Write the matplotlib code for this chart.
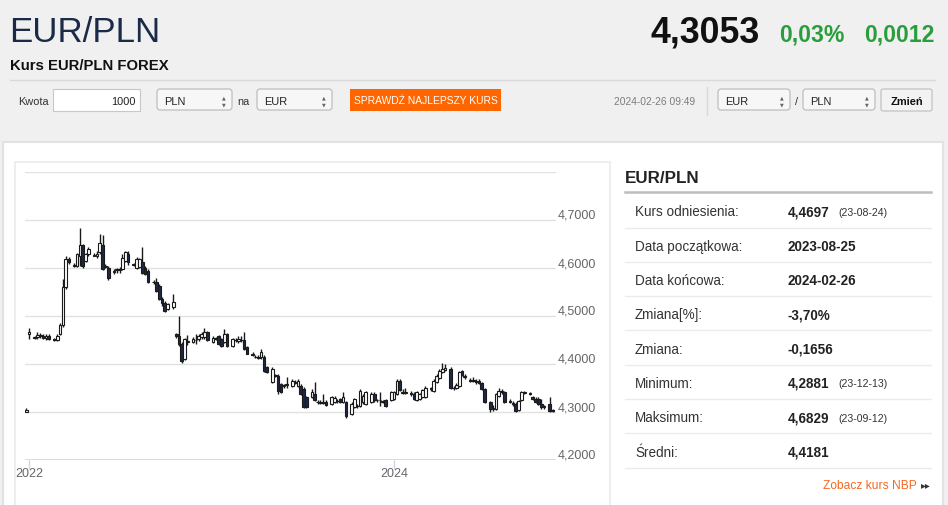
import matplotlib
matplotlib.use("Agg")
import matplotlib.pyplot as plt
import matplotlib.dates as mdates
from matplotlib import font_manager
from matplotlib.patches import Rectangle, FancyBboxPatch
from matplotlib.transforms import offset_copy
import pandas as pd

W, H = 948, 506

# forex candles: every day except Saturday
all_days = pd.date_range("2023-08-24", "2024-02-26", freq="D")
days = all_days[all_days.dayofweek != 5]

opens = [
    4.301, 4.462, 4.455, 4.456, 4.460, 4.458, 4.455, 4.459, 4.452, 4.450,
    4.462, 4.481, 4.560, 4.619, 4.606, 4.605, 4.626, 4.647, 4.615, 4.629,
    4.628, 4.626, 4.633, 4.647, 4.603, 4.601, 4.592, 4.596, 4.598, 4.598,
    4.615, 4.629, 4.607, 4.601, 4.603, 4.612, 4.601, 4.594, 4.571, 4.570,
    4.563, 4.535, 4.528, 4.515, 4.518, 4.462, 4.459, 4.442, 4.410, 4.447,
    4.446, 4.449, 4.452, 4.456, 4.456, 4.466, 4.445, 4.452, 4.458, 4.452,
    4.445, 4.462, 4.438, 4.450, 4.448, 4.449, 4.449, 4.435, 4.421, 4.415,
    4.414, 4.414, 4.414, 4.393, 4.362, 4.376, 4.376, 4.358, 4.355, 4.356,
    4.355, 4.362, 4.355, 4.355, 4.348, 4.331, 4.331, 4.338, 4.321, 4.319,
    4.320, 4.321, 4.317, 4.320, 4.322, 4.327, 4.320, 4.320, 4.296, 4.310,
    4.312, 4.313, 4.320, 4.317, 4.320, 4.338, 4.324, 4.325, 4.322, 4.324,
    4.324, 4.327, 4.338, 4.365, 4.342, 4.341, 4.339, 4.338, 4.324, 4.327,
    4.331, 4.331, 4.348, 4.344, 4.362, 4.370, 4.384, 4.388, 4.390, 4.350,
    4.349, 4.355, 4.386, 4.376, 4.367, 4.366, 4.365, 4.365, 4.360, 4.348,
    4.320, 4.306, 4.306, 4.334, 4.342, 4.341, 4.323, 4.318, 4.317, 4.304,
    4.324, 4.340, 4.339, 4.331, 4.328, 4.328, 4.317, 4.310, 4.317, 4.303,
]
highs = [
    4.308, 4.474, 4.458, 4.466, 4.465, 4.463, 4.462, 4.463, 4.455, 4.462,
    4.485, 4.577, 4.624, 4.622, 4.610, 4.632, 4.683, 4.650, 4.632, 4.643,
    4.631, 4.635, 4.671, 4.668, 4.609, 4.605, 4.597, 4.600, 4.603, 4.630,
    4.636, 4.635, 4.610, 4.622, 4.620, 4.643, 4.605, 4.598, 4.574, 4.580,
    4.566, 4.540, 4.531, 4.528, 4.546, 4.465, 4.501, 4.446, 4.455, 4.460,
    4.457, 4.462, 4.462, 4.466, 4.475, 4.469, 4.458, 4.456, 4.461, 4.455,
    4.472, 4.465, 4.454, 4.454, 4.458, 4.458, 4.466, 4.438, 4.424, 4.418,
    4.418, 4.431, 4.418, 4.396, 4.393, 4.380, 4.380, 4.361, 4.359, 4.372,
    4.368, 4.366, 4.368, 4.358, 4.352, 4.334, 4.348, 4.362, 4.324, 4.324,
    4.338, 4.325, 4.333, 4.334, 4.327, 4.330, 4.341, 4.323, 4.320, 4.330,
    4.316, 4.348, 4.338, 4.344, 4.341, 4.341, 4.328, 4.341, 4.326, 4.327,
    4.344, 4.344, 4.368, 4.368, 4.348, 4.351, 4.343, 4.341, 4.344, 4.340,
    4.348, 4.355, 4.352, 4.368, 4.380, 4.390, 4.403, 4.400, 4.394, 4.354,
    4.360, 4.386, 4.388, 4.379, 4.370, 4.372, 4.368, 4.369, 4.362, 4.351,
    4.323, 4.314, 4.340, 4.350, 4.348, 4.344, 4.327, 4.322, 4.320, 4.325,
    4.343, 4.344, 4.342, 4.334, 4.332, 4.331, 4.327, 4.315, 4.331, 4.306,
]
lows = [
    4.299, 4.453, 4.452, 4.452, 4.454, 4.452, 4.451, 4.449, 4.448, 4.447,
    4.460, 4.478, 4.556, 4.608, 4.602, 4.603, 4.605, 4.600, 4.612, 4.626,
    4.624, 4.620, 4.630, 4.596, 4.600, 4.576, 4.588, 4.590, 4.590, 4.596,
    4.612, 4.606, 4.604, 4.598, 4.600, 4.588, 4.585, 4.568, 4.567, 4.551,
    4.533, 4.520, 4.509, 4.512, 4.515, 4.455, 4.438, 4.403, 4.408, 4.440,
    4.443, 4.441, 4.448, 4.452, 4.453, 4.447, 4.443, 4.449, 4.440, 4.436,
    4.443, 4.436, 4.436, 4.446, 4.444, 4.446, 4.430, 4.420, 4.417, 4.412,
    4.410, 4.411, 4.384, 4.381, 4.360, 4.372, 4.338, 4.339, 4.350, 4.350,
    4.352, 4.358, 4.353, 4.336, 4.308, 4.308, 4.329, 4.322, 4.317, 4.316,
    4.317, 4.313, 4.315, 4.318, 4.319, 4.318, 4.318, 4.288, 4.294, 4.308,
    4.309, 4.311, 4.317, 4.315, 4.318, 4.320, 4.320, 4.313, 4.318, 4.310,
    4.322, 4.324, 4.336, 4.343, 4.337, 4.338, 4.334, 4.325, 4.322, 4.325,
    4.329, 4.329, 4.344, 4.342, 4.360, 4.368, 4.382, 4.385, 4.348, 4.346,
    4.347, 4.353, 4.374, 4.369, 4.362, 4.362, 4.359, 4.358, 4.346, 4.318,
    4.300, 4.302, 4.304, 4.332, 4.338, 4.318, 4.318, 4.312, 4.300, 4.302,
    4.322, 4.337, 4.335, 4.326, 4.318, 4.315, 4.307, 4.306, 4.301, 4.300,
]
closes = [
    4.304, 4.466, 4.456, 4.460, 4.458, 4.455, 4.459, 4.452, 4.450, 4.458,
    4.481, 4.560, 4.619, 4.612, 4.604, 4.629, 4.647, 4.605, 4.629, 4.640,
    4.626, 4.629, 4.653, 4.598, 4.605, 4.580, 4.594, 4.597, 4.595, 4.620,
    4.633, 4.612, 4.606, 4.619, 4.618, 4.590, 4.587, 4.570, 4.570, 4.553,
    4.535, 4.528, 4.511, 4.525, 4.530, 4.459, 4.442, 4.407, 4.452, 4.445,
    4.452, 4.450, 4.459, 4.462, 4.466, 4.449, 4.455, 4.453, 4.442, 4.438,
    4.462, 4.438, 4.452, 4.449, 4.452, 4.450, 4.431, 4.421, 4.419, 4.414,
    4.413, 4.424, 4.386, 4.383, 4.390, 4.375, 4.344, 4.341, 4.356, 4.358,
    4.365, 4.360, 4.365, 4.338, 4.310, 4.310, 4.341, 4.324, 4.320, 4.321,
    4.319, 4.315, 4.331, 4.330, 4.323, 4.320, 4.331, 4.291, 4.317, 4.327,
    4.313, 4.344, 4.334, 4.341, 4.338, 4.324, 4.326, 4.324, 4.321, 4.313,
    4.341, 4.341, 4.365, 4.345, 4.340, 4.340, 4.338, 4.327, 4.341, 4.338,
    4.345, 4.351, 4.349, 4.365, 4.376, 4.386, 4.390, 4.391, 4.350, 4.349,
    4.356, 4.383, 4.377, 4.372, 4.365, 4.365, 4.362, 4.360, 4.348, 4.320,
    4.306, 4.308, 4.338, 4.344, 4.344, 4.320, 4.321, 4.316, 4.303, 4.322,
    4.341, 4.341, 4.338, 4.328, 4.320, 4.317, 4.310, 4.310, 4.303, 4.302,
]

y_levels = [4.2, 4.3, 4.4, 4.5, 4.6, 4.7]
y_labels = ["4,2000", "4,3000", "4,4000", "4,5000", "4,6000", "4,7000"]
grid_levels = [4.3, 4.4, 4.5, 4.6, 4.7, 4.8]
x_tick_dates = ["2023-08-25", "2024-01-01"]
x_tick_labels = ["2022", "2024"]

stat_names = ["Kurs odniesienia:", "Data początkowa:", "Data końcowa:", "Zmiana[%]:",
              "Zmiana:", "Minimum:", "Maksimum:", "Średni:"]
stat_values = ["4,4697", "2023-08-25", "2024-02-26", "-3,70%",
               "-0,1656", "4,2881", "4,6829", "4,4181"]
stat_dates = ["(23-08-24)", "", "", "", "", "(23-12-13)", "(23-09-12)", ""]

names = {f.name for f in font_manager.fontManager.ttflist}
NARROW = "Liberation Sans Narrow" if "Liberation Sans Narrow" in names else "Liberation Sans"
SQ = 1.0 if NARROW == "Liberation Sans Narrow" else 0.85
SANS = "Liberation Sans"


def pt(px):
    return px * 0.72


fig = plt.figure(figsize=(W / 100, H / 100), dpi=100)
fig.patch.set_facecolor("#f0f0f0")
page = fig.add_axes([0, 0, 1, 1], zorder=0)
page.set_xlim(0, W)
page.set_ylim(H, 0)
page.axis("off")

# header
page.text(9, 42, "EUR/PLN", fontsize=pt(41 * SQ), color="#1b2a47", family=NARROW, va="baseline")
page.text(760, 42, "4,3053", fontsize=pt(42 * SQ), color="#111111", family=NARROW,
          weight="bold", ha="right", va="baseline")
page.text(845, 41, "0,03%", fontsize=pt(27 * SQ), color="#2a9d3c", family=NARROW,
          weight="bold", ha="right", va="baseline")
page.text(935, 41, "0,0012", fontsize=pt(27 * SQ), color="#2a9d3c", family=NARROW,
          weight="bold", ha="right", va="baseline")
page.text(10, 70, "Kurs EUR/PLN FOREX", fontsize=pt(17.5 * SQ), color="#111111", family=NARROW,
          weight="bold", va="baseline")
page.plot([10, 935], [80.5, 80.5], color="#d9d9d9", lw=1)


def select_box(x0, x1, label):
    page.add_patch(FancyBboxPatch((x0, 90), x1 - x0, 21, boxstyle="round,pad=0,rounding_size=3",
                                  fc="#f7f7f7", ec="#b8b8b8", lw=0.8))
    page.text(x0 + 7, 105, label, fontsize=pt(13 * SQ), family=NARROW, color="#222222", va="baseline")
    page.text(x1 - 8, 97.5, "▲", fontsize=3.5, family="DejaVu Sans", color="#666666", ha="center", va="center")
    page.text(x1 - 8, 104.5, "▼", fontsize=3.5, family="DejaVu Sans", color="#666666", ha="center", va="center")


page.text(18, 105, "Kwota", fontsize=pt(13 * SQ), family=NARROW, color="#333333", va="baseline")
page.add_patch(Rectangle((53, 90), 87, 22, fc="white", ec="#c8c8c8", lw=0.8))
page.text(136, 105, "1000", fontsize=pt(13 * SQ), family=NARROW, color="#222222", ha="right", va="baseline")
select_box(157, 232, "PLN")
page.text(237, 105, "na", fontsize=pt(13 * SQ), family=NARROW, color="#333333", va="baseline")
select_box(257, 332, "EUR")
page.add_patch(Rectangle((350, 90), 151, 22, fc="#ff6600", ec="none"))
page.text(425.5, 101, "SPRAWDŹ NAJLEPSZY KURS", fontsize=pt(12 * SQ), family=NARROW, color="white",
          ha="center", va="center")
page.text(695, 105, "2024-02-26 09:49", fontsize=pt(12 * SQ), family=NARROW, color="#7d7d7d",
          ha="right", va="baseline")
page.plot([707, 707], [88, 116], color="#d8d8d8", lw=1)
select_box(718, 790, "EUR")
page.text(796.5, 105, "/", fontsize=pt(13 * SQ), family=NARROW, color="#333333", ha="center", va="baseline")
select_box(803, 875, "PLN")
page.add_patch(FancyBboxPatch((881, 90), 51, 22, boxstyle="round,pad=0,rounding_size=2",
                              fc="#f3f3f3", ec="#bdbdbd", lw=0.8))
page.text(906.5, 101.5, "Zmień", fontsize=pt(13 * SQ), family=NARROW, weight="bold", color="#111111",
          ha="center", va="center")

# panels
page.add_patch(Rectangle((3, 143), 940, 380, fc="white", ec="#e2e2e2", lw=1.5))
chart_box = Rectangle((15, 163), 595, 360, fc="white", ec="#ebebeb", lw=1.2)
page.add_patch(chart_box)

# statistics table
page.text(625, 183, "EUR/PLN", fontsize=pt(17), family=SANS, weight="bold", color="#222222", va="baseline")
page.plot([625, 931], [193, 193], color="#bdbdbd", lw=1.8)
for i, (n, v, d) in enumerate(zip(stat_names, stat_values, stat_dates)):
    yc = 211.7 + 34.3 * i
    page.text(635, yc + 4.8, n, fontsize=pt(13.5), family=SANS, color="#333333", va="baseline")
    page.text(788, yc + 4.8, v, fontsize=pt(13.5), family=SANS, weight="bold", color="#222222", va="baseline")
    if d:
        page.text(838, yc + 4.3, d, fontsize=pt(10.5), family=SANS, color="#333333", va="baseline")
    page.plot([625, 931], [yc + 16.8, yc + 16.8], color="#ebebeb", lw=1)
page.text(917, 489, "Zobacz kurs NBP", fontsize=pt(12), family=SANS, color="#f26a21",
          ha="right", va="baseline")
page.text(921, 485.5, "▸▸", fontsize=7, family="DejaVu Sans", color="#333333", va="center")

# candlestick chart
ax = fig.add_axes([25 / W, 1 - 461 / H, (556 - 25) / W, (461 - 173) / H], zorder=2)
ax.patch.set_alpha(0)
for s in ax.spines.values():
    s.set_visible(False)
ax.set_ylim(4.2, 4.8)
x0 = mdates.date2num(pd.Timestamp("2023-08-25"))
ax.set_xlim(x0 - 4 / 2.83, x0 + 527 / 2.83)

xs = mdates.date2num(days)
for lv in grid_levels:
    ax.axhline(lv, color="#e1e1e1", lw=1, zorder=1)
ax.axhline(4.2, color="#ccd6eb", lw=1.2, zorder=1)

ax.vlines(xs, lows, highs, color="#1a1a1a", lw=1.0, zorder=3)
bottoms = [min(o, c) for o, c in zip(opens, closes)]
heights = [max(abs(c - o), 0.0015) for o, c in zip(opens, closes)]
faces = ["white" if c >= o else "#1d2944" for o, c in zip(opens, closes)]
ax.bar(xs, heights, bottom=bottoms, width=0.95, color=faces, edgecolor="#1a1a1a",
       linewidth=0.8, zorder=4)

ax.set_yticks([])
tick_nums = [mdates.date2num(pd.Timestamp(d)) for d in x_tick_dates]
ax.set_xticks(tick_nums)
ax.tick_params(axis="x", length=pt(9), width=1, color="#ccd6eb", labelbottom=False, direction="out")

ytrans = offset_copy(ax.get_yaxis_transform(), fig=fig, x=0, y=5, units="dots")
for lv, lab in zip(y_levels, y_labels):
    ax.text(1.004, lv, lab, transform=ytrans, ha="left", va="center", fontsize=pt(12.5),
            family=SANS, color="#666666", clip_on=False)

xtrans = offset_copy(ax.get_xaxis_transform(), fig=fig, x=0, y=-13.5, units="dots")
for tn, lab in zip(tick_nums, x_tick_labels):
    t = ax.text(tn, 0, lab, transform=xtrans, ha="center", va="center", fontsize=pt(12.5),
                family=SANS, color="#666666")
    t.set_clip_path(chart_box)

fig.savefig("out.png", dpi=100, facecolor=fig.get_facecolor())
